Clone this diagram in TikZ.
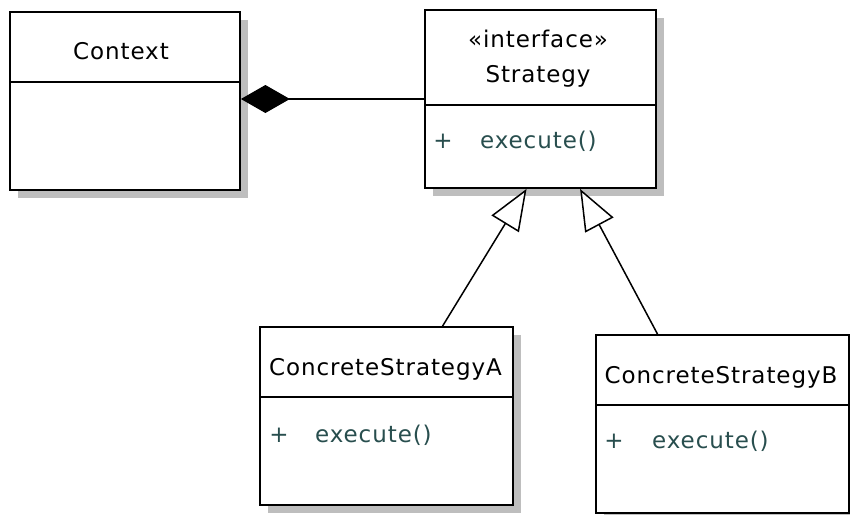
\documentclass[tikz,border=0pt]{standalone}
\usepackage{fontspec}
\setmainfont[LetterSpace=4]{DejaVu Sans}
\usetikzlibrary{arrows.meta,calc,shadows}
\definecolor{shadowgray}{RGB}{190,190,190}
\definecolor{optext}{RGB}{40,78,78}
\tikzset{
  classbox/.style={draw=black, line width=1.8pt, fill=white, rectangle, inner sep=0pt,
    drop shadow={shadow xshift=8pt, shadow yshift=-8pt, opacity=1, fill=shadowgray}},
  divider/.style={line width=1.8pt},
  lbl/.style={font=\fontsize{23}{27}\selectfont, inner sep=0pt, anchor=base},
  op/.style={lbl, text=optext},
  opl/.style={op, anchor=base west},
  compo/.style={line width=1.6pt, {Diamond[length=49pt,width=28pt,fill=black]}-},
  gen/.style={line width=1.5pt, -{Triangle[open,length=41pt,width=32pt,fill=white,line width=1.5pt]}}
}
\begin{document}
\begin{tikzpicture}[x=1pt,y=-1pt]
\useasboundingbox[fill=white] (0,0) rectangle (850,514);
% boxes
\node[classbox, minimum width=230pt, minimum height=178pt] (C) at (125,101) {};
\node[classbox, minimum width=231pt, minimum height=178pt] (S) at (540.5,99) {};
\node[classbox, minimum width=253pt, minimum height=178pt] (A) at (386.5,416) {};
\node[classbox, minimum width=253pt, minimum height=178pt] (B) at (722.5,424) {};
% dividers
\draw[divider] (C.west |- 0,82) -- (C.east |- 0,82);
\draw[divider] (S.west |- 0,105) -- (S.east |- 0,105);
\draw[divider] (A.west |- 0,397) -- (A.east |- 0,397);
\draw[divider] (B.west |- 0,405) -- (B.east |- 0,405);
% texts
\node[lbl] (Ct) at (121,59) {Context};
\node[lbl] (St1) at (538,47) {«interface»};
\node[lbl] (St2) at (538,82) {Strategy};
\node[op] (Sp) at (443,148) {+};
\node[opl] (Se) at (480,148) {execute()};
\node[lbl] (At) at (385.5,375) {ConcreteStrategyA};
\node[op] (Ap) at (279,442) {+};
\node[opl] (Ae) at (315,442) {execute()};
\node[lbl] (Bt) at (721,383) {ConcreteStrategyB};
\node[op] (Bp) at (614,448) {+};
\node[opl] (Be) at (652,448) {execute()};
% connectors
\draw[compo] (C.east |- 0,99) -- (S.west |- 0,99);
\draw[gen] ($(A.north west)!0.72!(A.north east)$) -- ($(S.south west)!0.44!(S.south east)$);
\draw[gen] ($(B.north west)!0.245!(B.north east)$) -- ($(S.south west)!0.67!(S.south east)$);
\end{tikzpicture}
\end{document}
